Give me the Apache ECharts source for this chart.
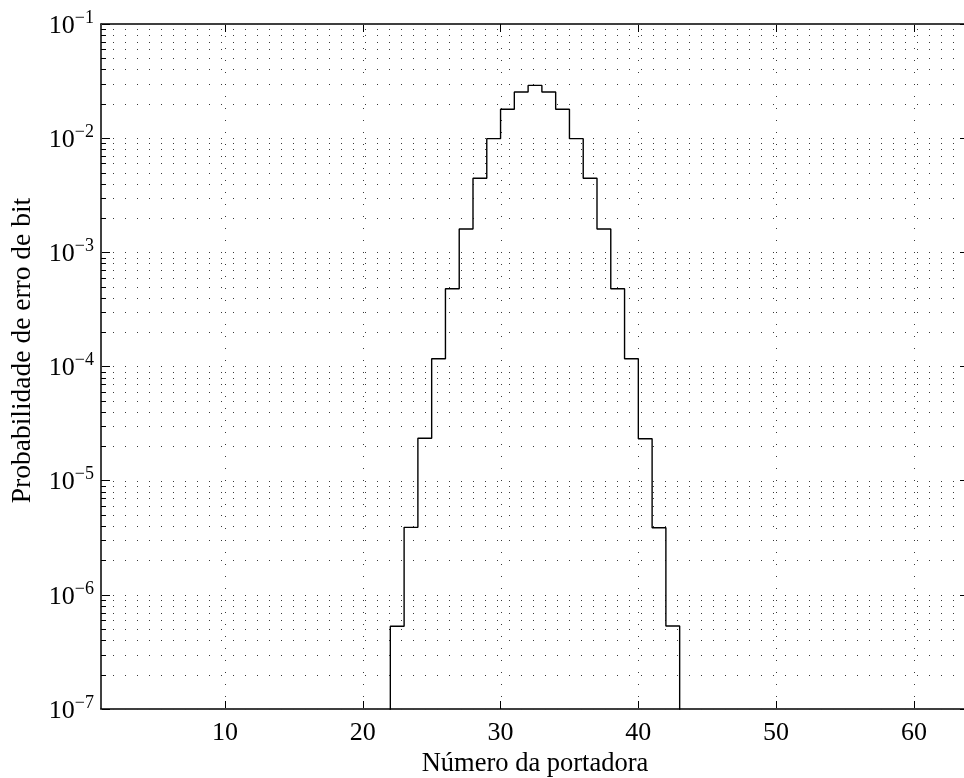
<!DOCTYPE html>
<html>
<head>
<meta charset="utf-8">
<script src="https://cdn.jsdelivr.net/npm/echarts@6/dist/echarts.min.js"></script>
<style>
html,body{margin:0;padding:0;background:#fff;}
#chart{width:964px;height:778px;}
</style>
</head>
<body>
<div id="chart"></div>
<script>
// Carrier numbers (stairs edges) and bit error probability per carrier
const carriers = [21, 22, 23, 24, 25, 26, 27, 28, 29, 30, 31, 32, 33, 34, 35, 36, 37, 38, 39, 40, 41, 42, 43];
const ber = [1e-8, 5.3e-7, 3.9e-6, 2.35e-5, 1.17e-4, 4.8e-4, 1.6e-3, 4.45e-3, 9.9e-3, 1.79e-2, 2.54e-2, 2.9e-2,
             2.54e-2, 1.79e-2, 9.9e-3, 4.45e-3, 1.6e-3, 4.8e-4, 1.17e-4, 2.33e-5, 3.87e-6, 5.33e-7, 1e-8];

// Axis ranges and ticks
const X_MIN = 1, X_MAX = 64;
const Y_MIN = 1e-7, Y_MAX = 1e-1;
const xTicks = [10, 20, 30, 40, 50, 60];
const yMajor = [1e-7, 1e-6, 1e-5, 1e-4, 1e-3, 1e-2, 1e-1];
const yMinor = [
  2e-7,3e-7,4e-7,5e-7,6e-7,7e-7,8e-7,9e-7,
  2e-6,3e-6,4e-6,5e-6,6e-6,7e-6,8e-6,9e-6,
  2e-5,3e-5,4e-5,5e-5,6e-5,7e-5,8e-5,9e-5,
  2e-4,3e-4,4e-4,5e-4,6e-4,7e-4,8e-4,9e-4,
  2e-3,3e-3,4e-3,5e-3,6e-3,7e-3,8e-3,9e-3,
  2e-2,3e-2,4e-2,5e-2,6e-2,7e-2,8e-2,9e-2
];

const FONT = '"Liberation Serif", "Times New Roman", serif';
const DOT = '#3a3a3a';

const chart = echarts.init(document.getElementById('chart'), null, {renderer: 'canvas'});

const stairData = carriers.map((c, i) => [c, ber[i]]);
const hGridData = yMajor.concat(yMinor).map(v => [X_MIN, v, yMinor.indexOf(v) >= 0 ? 1 : 0]);
const vGridData = xTicks.map(v => [v, Y_MIN]);

const option = {
  backgroundColor: '#fff',
  animation: false,
  grid: {left: 101, top: 24, width: 868, height: 685, containLabel: false, outerBoundsMode: 'none'},
  xAxis: [{
    type: 'value', min: X_MIN, max: X_MAX, position: 'bottom',
    axisLine: {show: true, onZero: false, lineStyle: {color: '#000', width: 1.5}},
    axisTick: {show: true, inside: true, length: 8, customValues: xTicks, lineStyle: {color: '#000', width: 1}},
    axisLabel: {show: true, customValues: xTicks, margin: 11, color: '#000', fontFamily: FONT, fontSize: 26},
    splitLine: {show: false},
    name: 'Número da portadora', nameLocation: 'middle', nameGap: 39,
    nameTextStyle: {color: '#000', fontFamily: FONT, fontSize: 26.5}
  }, {
    type: 'value', min: X_MIN, max: X_MAX, position: 'top',
    axisLine: {show: true, onZero: false, lineStyle: {color: '#000', width: 1.5}},
    axisTick: {show: true, inside: true, length: 8, customValues: xTicks, lineStyle: {color: '#000', width: 1}},
    axisLabel: {show: false},
    splitLine: {show: false}
  }],
  yAxis: [{
    type: 'log', logBase: 10, min: Y_MIN, max: Y_MAX, position: 'left',
    axisLine: {show: true, onZero: false, lineStyle: {color: '#000', width: 1.5}},
    axisTick: {show: true, inside: true, length: 9, lineStyle: {color: '#000', width: 1}},
    axisLabel: {
      show: true, margin: 7, color: '#000', fontFamily: FONT,
      formatter: function (v) {
        const e = Math.round(Math.log10(v));
        return '{b|10}{s|' + (e < 0 ? '\u2212' + (-e) : e) + '}';
      },
      rich: {
        b: {fontFamily: FONT, fontSize: 26, color: '#000', lineHeight: 30, verticalAlign: 'bottom'},
        s: {fontFamily: FONT, fontSize: 18, color: '#000', lineHeight: 30, verticalAlign: 'top', padding: [0, 0, 0, 0]}
      }
    },
    splitLine: {show: false},
    minorTick: {show: false},
    name: 'Probabilidade de erro de bit', nameLocation: 'middle', nameGap: 64,
    nameTextStyle: {color: '#000', fontFamily: FONT, fontSize: 27.5, padding: [0, 0, 0, 32]}
  }, {
    type: 'log', logBase: 10, min: Y_MIN, max: Y_MAX, position: 'right',
    axisLine: {show: false},
    axisTick: {show: true, inside: true, length: 9, lineStyle: {color: '#000', width: 1}},
    axisLabel: {show: false},
    splitLine: {show: false}
  }],
  series: [
    {
      // horizontal dotted grid lines + minor ticks
      type: 'custom', xAxisIndex: 0, yAxisIndex: 0, z: 1, silent: true,
      data: hGridData,
      renderItem: function (params, api) {
        const y = api.value(1);
        const p0 = api.coord([X_MIN, y]);
        const p1 = api.coord([X_MAX, y]);
        const yy = Math.round(p0[1]) + 0.5;
        const children = [{
          type: 'line',
          shape: {x1: p0[0], y1: yy, x2: p1[0], y2: yy},
          style: {stroke: DOT, lineWidth: 1, lineDash: [1, 11], lineDashOffset: -12}
        }];
        if (api.value(2) === 1) {
          children.push({type: 'line', shape: {x1: p0[0], y1: yy, x2: p0[0] + 5, y2: yy}, style: {stroke: '#000', lineWidth: 1}});
          children.push({type: 'line', shape: {x1: p1[0] - 5, y1: yy, x2: p1[0], y2: yy}, style: {stroke: '#000', lineWidth: 1}});
        }
        return {type: 'group', children: children};
      }
    },
    {
      // vertical dotted grid lines
      type: 'custom', xAxisIndex: 0, yAxisIndex: 0, z: 1, silent: true,
      data: vGridData,
      renderItem: function (params, api) {
        const x = api.value(0);
        const p0 = api.coord([x, Y_MIN]);
        const p1 = api.coord([x, Y_MAX]);
        const xx = Math.round(p0[0]) + 0.5;
        return {
          type: 'line',
          shape: {x1: xx, y1: p0[1], x2: xx, y2: p1[1]},
          style: {stroke: DOT, lineWidth: 1, lineDash: [1, 11]}
        };
      }
    },
    {
      type: 'line', xAxisIndex: 0, yAxisIndex: 0, z: 5,
      data: stairData, step: 'end', showSymbol: false, symbol: 'none',
      clip: true,
      lineStyle: {color: '#000', width: 1.4}
    }
  ]
};

chart.setOption(option);
</script>
</body>
</html>
